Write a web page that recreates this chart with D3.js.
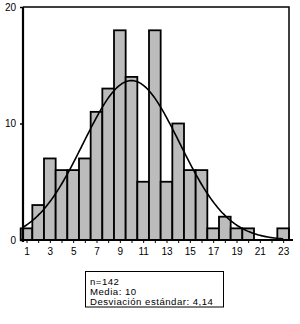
<!DOCTYPE html>
<html><head><meta charset="utf-8">
<script src="https://cdn.jsdelivr.net/npm/d3@7/dist/d3.min.js"></script>
<style>body{margin:0;background:#fff}svg{display:block}text{font-family:"Liberation Sans",Arial,sans-serif}</style>
</head><body><svg id="c" width="300" height="324"></svg>
<script>
const categories = d3.range(1, 24);
const counts = [1,3,7,6,6,7,11,13,18,14,5,18,5,10,6,6,1,2,1,1,0,0,1];
const xTickLabels = [1,3,5,7,9,11,13,15,17,19,21,23];
const yTickLabels = [0,10,20];
const statLines = ["n=142","Media: 10","Desviación estándar: 4,14"];
const nTotal = 142, mean = 10, sd = 4.14;

const svg = d3.select("#c");
const x = d3.scaleLinear().domain([0.7, 23.5]).range([23, 289]);
const y = d3.scaleLinear().domain([0, 20]).range([240, 7]);

// bars
svg.append("g").selectAll("rect").data(categories).join("rect")
  .attr("x", d => x(d - 0.5)).attr("width", d => x(d + 0.5) - x(d - 0.5))
  .attr("y", (d,i) => y(counts[i])).attr("height", (d,i) => y(0) - y(counts[i]))
  .attr("fill", "#bcbcbc").attr("stroke", "#000").attr("stroke-width", 1.8)
  .style("display", (d,i) => counts[i] > 0 ? null : "none");

// normal curve fit from the stated mean / sd / n
const curve = d3.range(0.7, 23.01, 0.1).map(v => [v, nTotal / (sd * Math.sqrt(2*Math.PI)) * Math.exp(-0.5*((v-mean)/sd)**2)]);
svg.append("path").datum(curve)
  .attr("d", d3.line().x(d => x(d[0])).y(d => y(d[1])).curve(d3.curveBasis))
  .attr("fill", "none").attr("stroke", "#000").attr("stroke-width", 1.6);

// frame
svg.append("path").attr("d", `M${x(0.7)},${y(20)}H${x(23.5)}V${y(0)}`)
  .attr("fill","none").attr("stroke","#000").attr("stroke-width",1.5);

// axes
const xAxis = d3.axisBottom(x).tickValues(categories).tickSize(3)
  .tickFormat(d => xTickLabels.includes(d) ? d : "");
const gx = svg.append("g").attr("transform", `translate(0,${y(0)})`).call(xAxis);
gx.select(".domain").attr("d", `M${x(0.7)},0H293`).attr("stroke-width", 2);
gx.selectAll("text").attr("font-size", 10).attr("dy", "0.9em");

const yAxis = d3.axisLeft(y).tickValues(yTickLabels).tickSize(3);
const gy = svg.append("g").attr("transform", `translate(${x(0.7)},0)`).call(yAxis);
gy.select(".domain").attr("d", `M0,${y(20)}V${y(0)+2}`).attr("stroke-width", 2.2);
gy.selectAll("text").attr("font-size", 10).attr("x", -7);
gy.selectAll(".tick line").attr("stroke-width", 1.5);

// stats box
svg.append("rect").attr("x", 85.5).attr("y", 271.5).attr("width", 138).attr("height", 35.5)
  .attr("fill", "#fff").attr("stroke", "#000").attr("stroke-width", 1);
svg.append("g").selectAll("text").data(statLines).join("text")
  .attr("x", 90).attr("y", (d,i) => 284.5 + i*10)
  .attr("font-size", 9.6).attr("letter-spacing", 0.5).attr("fill", "#000").text(d => d);
</script></body></html>
